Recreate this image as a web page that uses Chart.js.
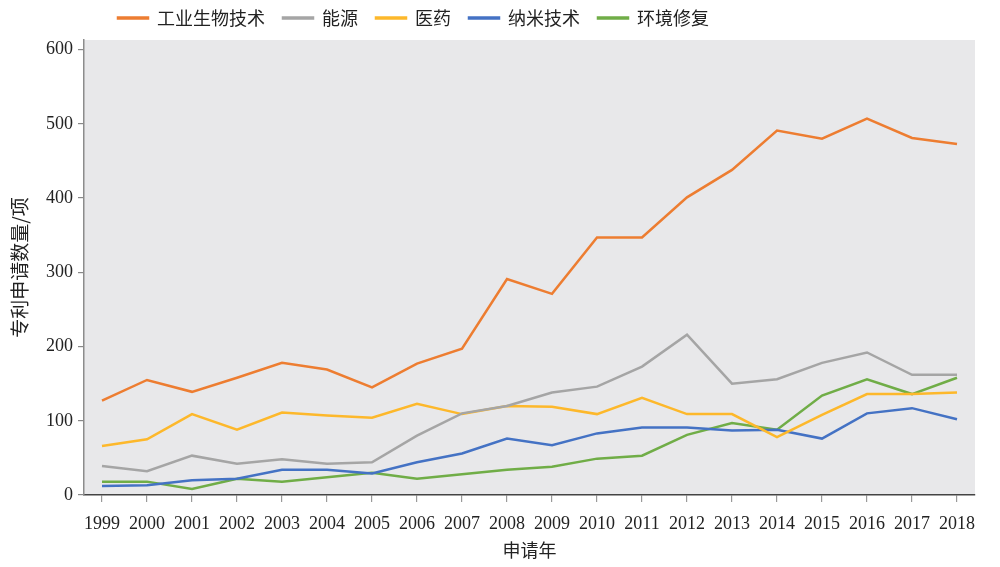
<!DOCTYPE html>
<html>
<head>
<meta charset="utf-8">
<script src="https://cdn.jsdelivr.net/npm/chart.js@4.4.1/dist/chart.umd.min.js"></script>
<style>
  html, body { margin: 0; padding: 0; background: #fff; }
  #wrap { width: 1000px; height: 567px; }
</style>
</head>
<body>
<div id="wrap"><canvas id="chart"></canvas></div>
<script>
// Patent applications per year, by field
const years = ['1999', '2000', '2001', '2002', '2003', '2004', '2005', '2006', '2007', '2008',
               '2009', '2010', '2011', '2012', '2013', '2014', '2015', '2016', '2017', '2018'];
const yTicks = [0, 100, 200, 300, 400, 500, 600];

const industrialBio = [127, 155, 139, 158, 178, 169, 145, 177, 197, 291, 271, 347, 347, 401, 438, 491, 480, 507, 481, 473];
const energy        = [39, 32, 53, 42, 48, 42, 44, 80, 110, 120, 138, 146, 173, 216, 150, 156, 178, 192, 162, 162];
const medicine      = [66, 75, 109, 88, 111, 107, 104, 123, 109, 120, 119, 109, 131, 109, 109, 78, 108, 136, 136, 138];
const nanotech      = [12, 13, 20, 22, 34, 34, 29, 44, 56, 76, 67, 83, 91, 91, 87, 88, 76, 110, 117, 102];
const environment   = [18, 18, 8, 22, 18, 24, 30, 22, 28, 34, 38, 49, 53, 81, 97, 88, 134, 156, 136, 158];

const seriesNames  = ['工业生物技术', '能源', '医药', '纳米技术', '环境修复'];
const seriesData   = [industrialBio, energy, medicine, nanotech, environment];
const seriesColors = ['#ED7D31', '#A5A5A5', '#FDB82B', '#4472C4', '#70AD47'];

const serif = "'Liberation Serif', 'Times New Roman', serif";
const cjk   = "'Noto Sans CJK SC', sans-serif";

const plotBg = {
  id: 'plotBg',
  beforeDraw(chart) {
    const { ctx, chartArea: a } = chart;
    ctx.save();
    ctx.fillStyle = '#E8E8EA';
    ctx.fillRect(a.left, a.top, a.right - a.left, a.bottom - a.top);
    ctx.restore();
  },
  afterLayout(chart) {
    // legend sits left of centre in the original
    chart.legend.left = 100;
    chart.legend.top = -9;
  }
};

new Chart(document.getElementById('chart'), {
  type: 'line',
  data: {
    datasets: seriesNames.map((name, i) => ({
      label: name,
      data: seriesData[i].map((v, j) => ({ x: j, y: v })),
      borderColor: seriesColors[i],
      backgroundColor: seriesColors[i],
      borderWidth: 2.5,
      pointRadius: 0,
      tension: 0,
      fill: false
    }))
  },
  options: {
    responsive: true,
    maintainAspectRatio: false,
    animation: false,
    layout: { padding: { top: -6, right: 25, left: 0, bottom: 0 } },
    plugins: {
      legend: {
        position: 'top',
        align: 'start',
        labels: {
          boxWidth: 30,
          boxHeight: 1,
          padding: 18,
          color: '#222',
          font: { family: cjk, size: 18 }
        }
      },
      tooltip: { enabled: false }
    },
    scales: {
      x: {
        type: 'linear',
        min: -0.4,
        max: 19.4,
        afterBuildTicks: s => { s.ticks = years.map((_, i) => ({ value: i })); },
        afterFit: s => { s.height = 72; },
        ticks: {
          callback: v => years[v],
          color: '#222',
          padding: 11,
          maxRotation: 0,
          autoSkip: false,
          font: { family: serif, size: 18 }
        },
        grid: { drawOnChartArea: false, drawTicks: true, tickLength: 7, color: '#9a9a9a', lineWidth: 1.2 },
        border: { color: '#444', width: 1.5 },
        title: {
          display: true,
          text: '申请年',
          color: '#222',
          padding: { top: 2, bottom: 6 },
          font: { family: cjk, size: 18 }
        }
      },
      y: {
        min: 0,
        max: 613,
        afterBuildTicks: s => { s.ticks = yTicks.map(v => ({ value: v })); },
        afterFit: s => { s.width = 84; },
        ticks: {
          color: '#222',
          padding: 5,
          font: { family: serif, size: 18 }
        },
        grid: { drawOnChartArea: false, drawTicks: true, tickLength: 6, color: '#888', lineWidth: 1.2 },
        border: { color: '#8c8c8c', width: 1.5 },
        title: {
          display: true,
          text: '专利申请数量/项',
          color: '#222',
          padding: { top: 8, bottom: 0 },
          font: { family: cjk, size: 19 }
        }
      }
    }
  },
  plugins: [plotBg]
});
</script>
</body>
</html>
